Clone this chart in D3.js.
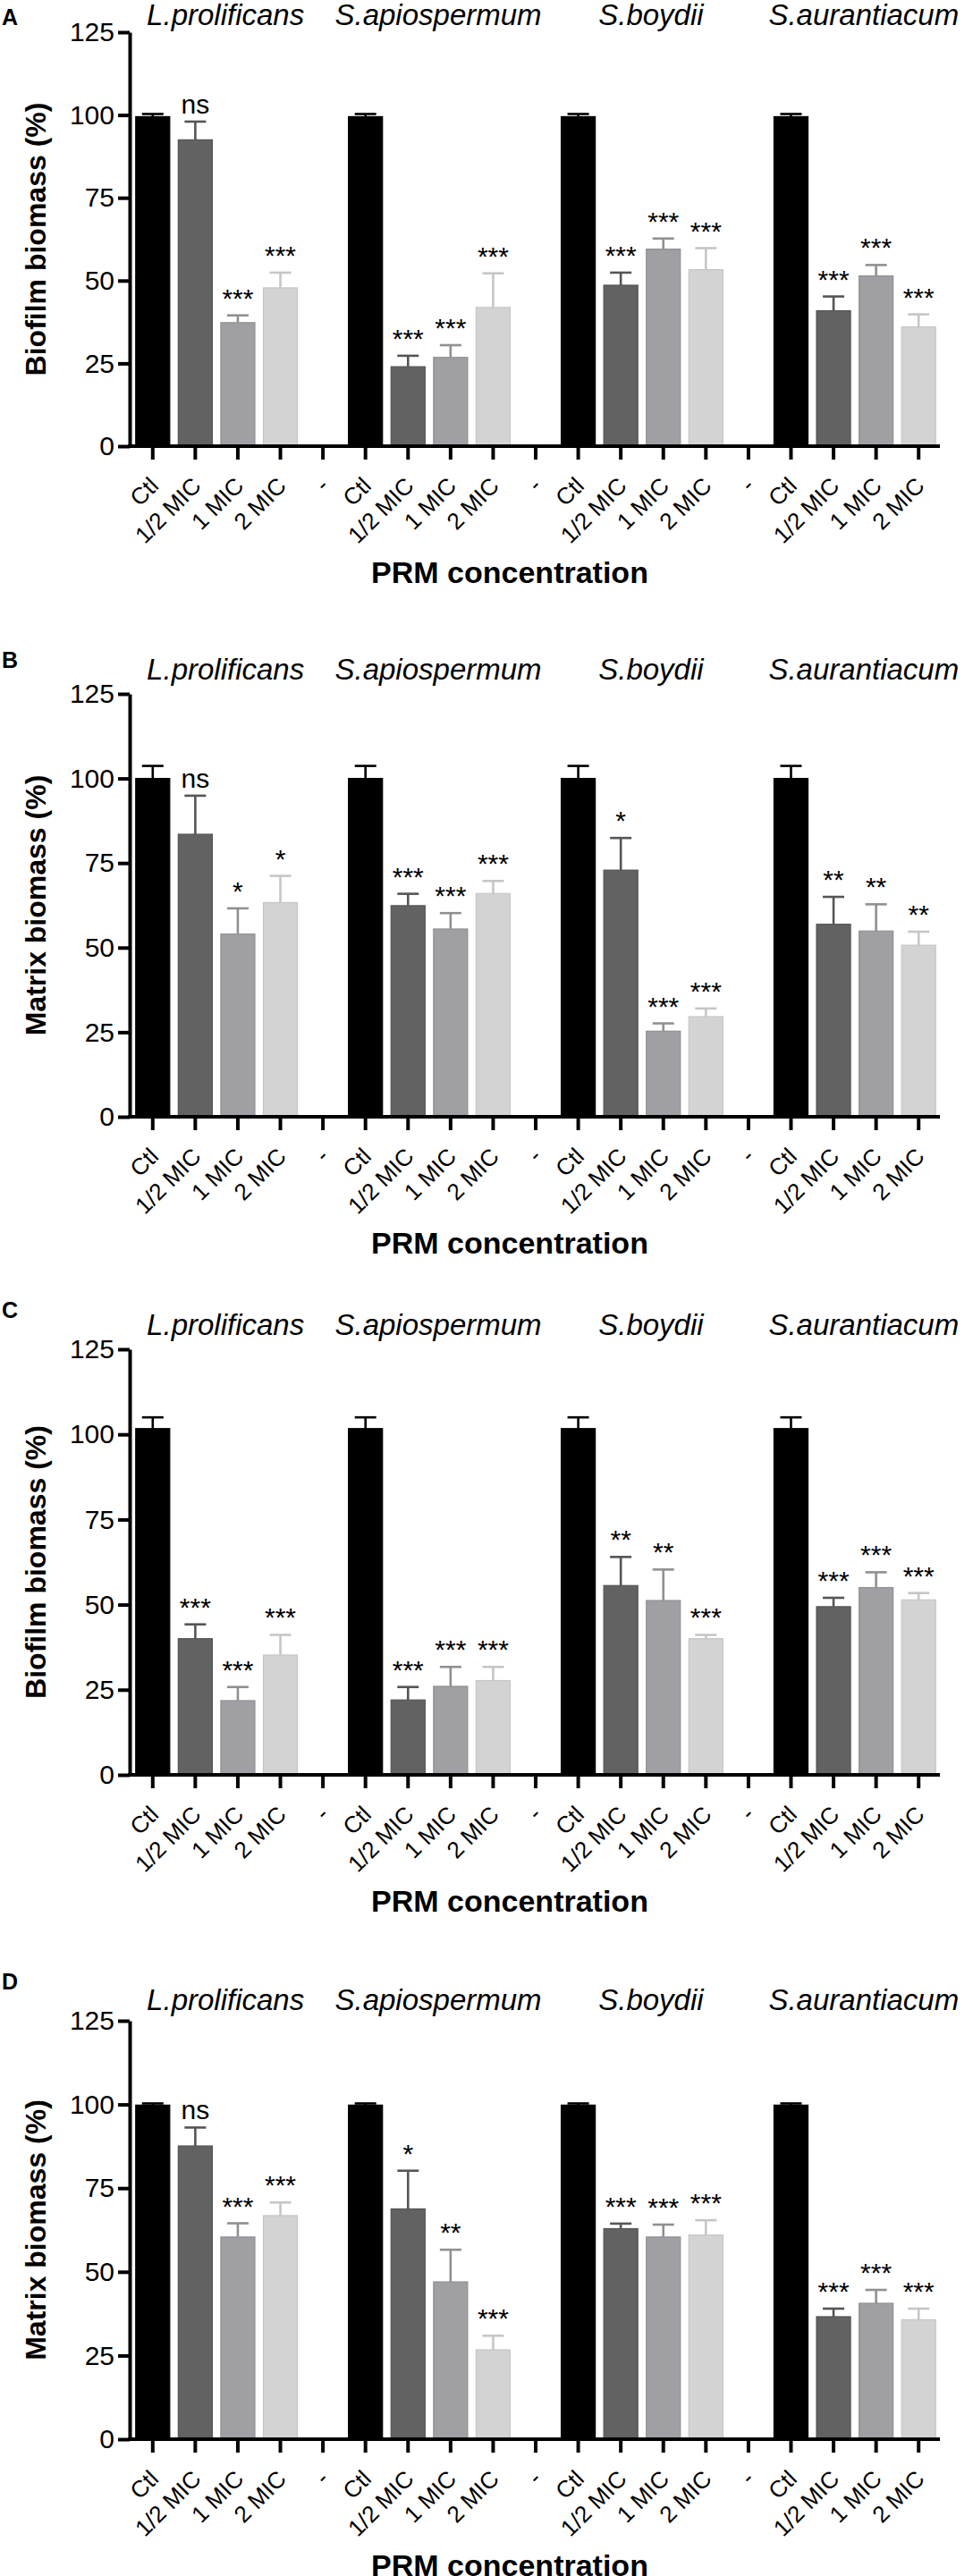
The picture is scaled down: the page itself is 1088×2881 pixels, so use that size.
<!DOCTYPE html>
<html lang="en">
<head>
    <meta charset="UTF-8">
    <title>PRM biofilm / matrix biomass</title>
    <script src="https://d3js.org/d3.v7.min.js"></script>
    <style>
        body {
            margin: 0;
            background: #fff;
        }
        svg {
            display: block;
            font-family: Arial, "Liberation Sans", sans-serif;
        }
    </style>
</head>
<body>
<svg id="chart" width="1088" height="2881"></svg>

<script>
    // ---- data ----
    const groups = ["L.prolificans", "S.apiospermum", "S.boydii", "S.aurantiacum"];
    const doses = ["Ctl", "1/2 MIC", "1 MIC", "2 MIC"];
    const gapLabel = "-";
    const yTicks = [0, 25, 50, 75, 100, 125];
    const panelLetters = ["A", "B", "C", "D"];
    const yTitles = ["Biofilm biomass (%)", "Matrix biomass (%)", "Biofilm biomass (%)", "Matrix biomass (%)"];
    const xTitle = "PRM concentration";

    // means and upper SD per panel, [group][dose]
    const meansA = [[99.5, 92.5, 37.3, 47.8], [99.5, 24.0, 26.8, 41.9], [99.5, 48.6, 59.5, 53.3], [99.5, 40.9, 51.4, 36.0]];
    const errsA  = [[0.8, 5.5, 2.2, 4.6], [0.8, 3.3, 3.7, 10.3], [0.8, 3.8, 3.2, 6.5], [0.8, 4.3, 3.3, 3.8]];
    const sigA   = [["", "ns", "***", "***"], ["", "***", "***", "***"], ["", "***", "***", "***"], ["", "***", "***", "***"]];

    const meansB = [[100, 83.5, 54.0, 63.3], [100, 62.4, 55.5, 66.0], [100, 72.9, 25.3, 29.6], [100, 56.9, 54.9, 50.7]];
    const errsB  = [[3.7, 11.4, 7.6, 7.9], [3.7, 3.5, 4.7, 3.7], [3.7, 9.5, 2.3, 2.4], [3.7, 8.1, 7.9, 4.0]];
    const sigB   = [["", "ns", "*", "*"], ["", "***", "***", "***"], ["", "*", "***", "***"], ["", "**", "**", "**"]];

    const meansC = [[101.7, 40.0, 21.8, 35.2], [101.7, 22.0, 26.0, 27.7], [101.7, 55.6, 51.2, 40.0], [101.7, 49.4, 55.0, 51.4]];
    const errsC  = [[3.3, 4.2, 4.0, 5.9], [3.3, 3.8, 5.7, 4.0], [3.3, 8.4, 9.1, 1.1], [3.3, 2.6, 4.5, 2.0]];
    const sigC   = [["", "***", "***", "***"], ["", "***", "***", "***"], ["", "**", "**", "***"], ["", "***", "***", "***"]];

    const meansD = [[99.8, 87.6, 60.4, 66.8], [99.8, 68.8, 47.0, 26.7], [99.8, 62.9, 60.4, 61.0], [99.8, 36.6, 40.6, 35.7]];
    const errsD  = [[0.5, 5.5, 4.1, 3.9], [0.5, 11.4, 9.6, 4.2], [0.5, 1.5, 3.7, 4.4], [0.5, 2.4, 4.0, 3.3]];
    const sigD   = [["", "ns", "***", "***"], ["", "*", "**", "***"], ["", "***", "***", "***"], ["", "***", "***", "***"]];

    const panels = [
        {means: meansA, errs: errsA, sig: sigA},
        {means: meansB, errs: errsB, sig: sigB},
        {means: meansC, errs: errsC, sig: sigC},
        {means: meansD, errs: errsD, sig: sigD}
    ];

    // ---- layout ----
    const fills   = ["#000000", "#626262", "#a0a0a4", "#d3d3d3"];
    const strokes = ["#000000", "#555555", "#909094", "#c6c6c6"];
    const axisX = 145, plotRight = 1051;
    // y of 125 tick, y of 0, baselines of species titles and panel letters
    const frames = [
        {top: 36,   bottom: 499,  titleY: 28,   letterY: 28},
        {top: 776,  bottom: 1249, titleY: 760,  letterY: 747},
        {top: 1509, bottom: 1985, titleY: 1493, letterY: 1474},
        {top: 2260, bottom: 2728, titleY: 2248, letterY: 2225}
    ];

    const svg = d3.select("#chart");

    // 19 columns: 4 doses per species with a blank "-" column between species
    const slots = [];
    groups.forEach(function (g, gi) {
        doses.forEach(function (d, di) {
            slots.push({key: g + "|" + d, label: d, gi: gi, di: di});
        });
        if (gi < groups.length - 1) slots.push({key: g + "|gap", label: gapLabel, gi: gi, di: -1});
    });

    const x = d3.scaleBand()
        .domain(slots.map(s => s.key))
        .range([axisX + 2, plotRight])
        .paddingInner(0.2)
        .paddingOuter(0.1);

    function drawPanel(p, i) {
        const f = frames[i];
        const y = d3.scaleLinear().domain([0, 125]).range([f.bottom, f.top]);
        const g = svg.append("g").attr("class", "panel");

        // panel letter
        g.append("text")
            .attr("x", 2).attr("y", f.letterY)
            .attr("font-size", 25).attr("font-weight", "bold")
            .text(panelLetters[i]);

        // species titles
        g.selectAll("text.species")
            .data(groups)
            .enter().append("text")
            .attr("class", "species")
            .attr("x", function (d) {
                return (x(d + "|Ctl") + x(d + "|2 MIC") + x.bandwidth()) / 2 + 10;
            })
            .attr("y", f.titleY)
            .attr("text-anchor", "middle")
            .attr("font-size", 33)
            .attr("font-style", "italic")
            .text(d => d);

        // bars
        const bars = [];
        p.means.forEach(function (row, gi) {
            row.forEach(function (v, di) {
                bars.push({key: groups[gi] + "|" + doses[di], v: v, e: p.errs[gi][di], s: p.sig[gi][di], di: di});
            });
        });

        g.selectAll("rect.bar")
            .data(bars)
            .enter().append("rect")
            .attr("class", "bar")
            .attr("x", d => x(d.key))
            .attr("width", x.bandwidth())
            .attr("y", d => y(d.v))
            .attr("height", d => y(0) - y(d.v))
            .attr("fill", d => fills[d.di])
            .attr("stroke", d => strokes[d.di])
            .attr("stroke-width", 1.2);

        // error bars (upper only)
        const eb = g.selectAll("g.err")
            .data(bars)
            .enter().append("g")
            .attr("class", "err")
            .attr("stroke", d => strokes[d.di])
            .attr("stroke-width", 2.6);
        eb.append("line")
            .attr("x1", d => x(d.key) + x.bandwidth() / 2)
            .attr("x2", d => x(d.key) + x.bandwidth() / 2)
            .attr("y1", d => y(d.v))
            .attr("y2", d => y(d.v + d.e));
        eb.append("line")
            .attr("x1", d => x(d.key) + x.bandwidth() / 2 - 12)
            .attr("x2", d => x(d.key) + x.bandwidth() / 2 + 12)
            .attr("y1", d => y(d.v + d.e))
            .attr("y2", d => y(d.v + d.e));

        // significance marks
        g.selectAll("text.sig")
            .data(bars.filter(d => d.s !== ""))
            .enter().append("text")
            .attr("class", "sig")
            .attr("x", d => x(d.key) + x.bandwidth() / 2)
            .attr("y", d => y(d.v + d.e) - 9)
            .attr("text-anchor", "middle")
            .attr("font-size", 30)
            .text(d => d.s);

        // y axis
        const yAxis = g.append("g")
            .attr("transform", "translate(" + axisX + ",0)")
            .call(d3.axisLeft(y).tickValues(yTicks).tickSize(13).tickSizeOuter(0).tickPadding(4));
        yAxis.select(".domain").attr("stroke", "#000").attr("stroke-width", 4);
        yAxis.selectAll(".tick line").attr("stroke", "#000").attr("stroke-width", 4);
        yAxis.selectAll(".tick text")
            .attr("font-size", 30)
            .attr("font-family", "Arial, 'Liberation Sans', sans-serif")
            .attr("fill", "#000");

        // x axis
        const xAxis = g.append("g")
            .attr("transform", "translate(0," + y(0) + ")")
            .call(d3.axisBottom(x).tickSize(15).tickSizeOuter(0)
                .tickFormat(k => slots.find(s => s.key === k).label));
        xAxis.select(".domain").attr("stroke", "#000").attr("stroke-width", 4)
            .attr("d", "M" + (axisX - 2) + ",0H" + plotRight);
        xAxis.selectAll(".tick line").attr("stroke", "#000").attr("stroke-width", 4);
        xAxis.selectAll(".tick text")
            .attr("font-size", 26)
            .attr("font-family", "Arial, 'Liberation Sans', sans-serif")
            .attr("fill", "#000")
            .attr("text-anchor", "end")
            .attr("y", 0).attr("dy", 0)
            .attr("transform", "translate(8,46) rotate(-45)");

        // axis titles
        g.append("text")
            .attr("transform", "translate(51," + (f.top + f.bottom) / 2 + ") rotate(-90)")
            .attr("text-anchor", "middle")
            .attr("font-size", 32)
            .attr("font-weight", "bold")
            .text(yTitles[i]);

        g.append("text")
            .attr("x", 570)
            .attr("y", f.bottom + 153)
            .attr("text-anchor", "middle")
            .attr("font-size", 34)
            .attr("font-weight", "bold")
            .text(xTitle);
    }

    panels.forEach(drawPanel);
</script>
</body>
</html>
